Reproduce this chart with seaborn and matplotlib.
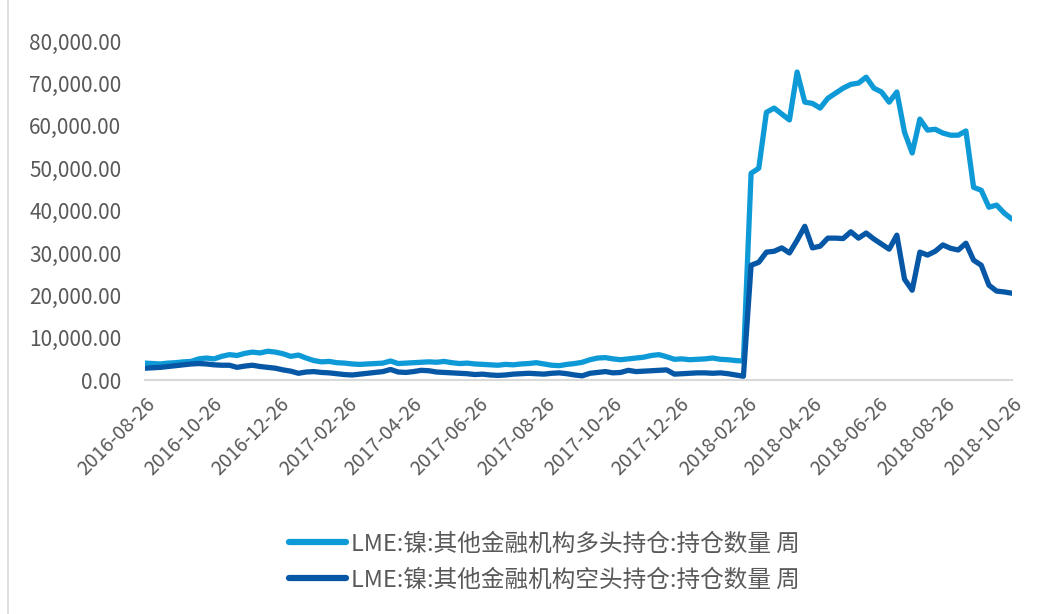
import pandas as pd
import numpy as np
import matplotlib.pyplot as plt
import seaborn as sns
from matplotlib.ticker import FuncFormatter
from matplotlib.lines import Line2D

# weekly dates (Fridays), 2016-08-26 .. 2018-10-26
dates = pd.date_range("2016-08-26", "2018-10-26", freq="7D")

# 多头持仓 (long), thousands of lots
long_k = [4.0, 3.9, 3.8, 4.0, 4.1, 4.3, 4.4, 5.0, 5.2, 5.0,
          5.6, 6.0, 5.8, 6.3, 6.6, 6.4, 6.8, 6.6, 6.2, 5.6,
          5.9, 5.2, 4.6, 4.3, 4.4, 4.1, 4.0, 3.8, 3.7, 3.8,
          3.9, 4.0, 4.5, 3.9, 4.0, 4.1, 4.2, 4.3, 4.2, 4.4,
          4.1, 3.9, 4.0, 3.8, 3.7, 3.6, 3.5, 3.7, 3.6, 3.8,
          3.9, 4.1, 3.8, 3.5, 3.4, 3.7, 3.9, 4.2, 4.8, 5.2,
          5.3, 5.0, 4.8, 5.0, 5.2, 5.4, 5.8, 6.0, 5.5, 4.9,
          5.0, 4.8, 4.9, 5.0, 5.2, 4.9, 4.8, 4.6, 4.5,
          48.8, 50.0, 63.2, 64.2, 62.8, 61.4, 72.7, 65.6, 65.3, 64.2,
          66.5, 67.7, 68.9, 69.8, 70.1, 71.5, 68.9, 68.0, 65.6, 68.0,
          58.5, 53.6, 61.6, 59.0, 59.2, 58.3, 57.8, 57.8, 58.8, 45.5,
          44.8, 40.8, 41.3, 39.4, 38.0]

# 空头持仓 (short), thousands of lots
short_k = [2.8, 2.9, 3.0, 3.2, 3.4, 3.6, 3.8, 3.9, 3.8, 3.6,
           3.5, 3.5, 3.0, 3.3, 3.5, 3.2, 3.0, 2.8, 2.4, 2.1,
           1.6, 1.9, 2.0, 1.8, 1.7, 1.5, 1.3, 1.2, 1.4, 1.6,
           1.8, 2.0, 2.5, 1.9, 1.8, 2.0, 2.3, 2.2, 1.9, 1.8,
           1.7, 1.6, 1.5, 1.3, 1.4, 1.2, 1.1, 1.2, 1.4, 1.5,
           1.6, 1.5, 1.4, 1.6, 1.7, 1.5, 1.2, 1.0, 1.6, 1.8,
           2.0, 1.7, 1.8, 2.3, 2.0, 2.1, 2.2, 2.3, 2.4, 1.4,
           1.5, 1.6, 1.7, 1.7, 1.6, 1.7, 1.5, 1.2, 0.9,
           27.1, 27.8, 30.2, 30.4, 31.2, 30.0, 33.0, 36.3, 31.2, 31.6,
           33.5, 33.5, 33.4, 35.0, 33.5, 34.7, 33.3, 32.1, 30.9, 34.2,
           23.8, 21.2, 30.2, 29.5, 30.4, 31.9, 31.1, 30.7, 32.3, 28.3,
           27.1, 22.4, 21.0, 20.8, 20.5]

labels = ["LME:镍:其他金融机构多头持仓:持仓数量 周",
          "LME:镍:其他金融机构空头持仓:持仓数量 周"]
colors = ["#0E9AD7", "#0757A7"]

tick_dates = ["2016-08-26", "2016-10-26", "2016-12-26", "2017-02-26",
              "2017-04-26", "2017-06-26", "2017-08-26", "2017-10-26",
              "2017-12-26", "2018-02-26", "2018-04-26", "2018-06-26",
              "2018-08-26", "2018-10-26"]
yticks = np.arange(0, 80001, 10000)

df = pd.DataFrame({"date": list(dates) * 2,
                   "value": np.array(long_k + short_k) * 1000,
                   "series": [labels[0]] * len(dates) + [labels[1]] * len(dates)})

sns.set_style("white")
plt.rcParams["font.family"] = ["Noto Sans CJK SC", "DejaVu Sans"]

fig = plt.figure(figsize=(10.53, 6.14), dpi=100)
ax = fig.add_axes([0.1377, 0.381, 0.8233, 0.552])

sns.lineplot(data=df, x="date", y="value", hue="series", palette=colors,
             linewidth=3.8, ax=ax, legend=False)

ax.set_xlim(pd.Timestamp(tick_dates[0]), pd.Timestamp(tick_dates[-1]))
ax.set_ylim(0, 80000)
ax.set_yticks(yticks)
ax.yaxis.set_major_formatter(FuncFormatter(lambda v, p: f"{v:,.2f}"))
ax.set_xticks(pd.to_datetime(tick_dates))
ax.set_xticklabels(tick_dates, rotation=45, ha="right", rotation_mode="anchor")
ax.set_xlabel("")
ax.set_ylabel("")

for s in ["top", "right", "left"]:
    ax.spines[s].set_visible(False)
ax.spines["bottom"].set_color("#D9D9D9")
ax.spines["bottom"].set_linewidth(1.5)
ax.tick_params(axis="x", colors="#D9D9D9", length=6, width=1.5, labelcolor="#595959",
               labelsize=14, pad=4)
ax.tick_params(axis="y", length=0, labelcolor="#595959", labelsize=15, pad=17)

handles = [Line2D([0], [0], color=c, lw=4.5, solid_capstyle="round") for c in colors]
fig.legend(handles, labels, loc="upper center", bbox_to_anchor=(0.517, 0.167),
           frameon=False, fontsize=17, labelcolor="#595959", handlelength=2.4,
           handletextpad=0.2, labelspacing=0.55)

# outer chart border on the left
fig.add_artist(Line2D([0.008, 0.008], [0.0, 1.0], color="#D9D9D9", lw=1.2))

fig.savefig("out.png", dpi=100)
